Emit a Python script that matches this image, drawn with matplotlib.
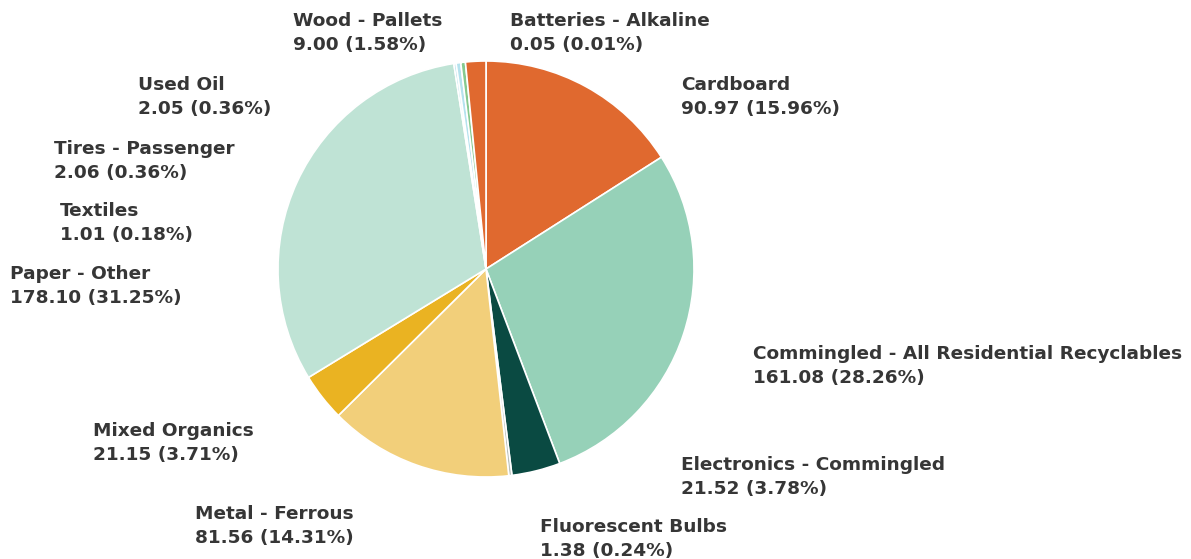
import matplotlib.pyplot as plt

# waste tonnage by material
materials = ["Batteries - Alkaline", "Cardboard", "Commingled - All Residential Recyclables",
             "Electronics - Commingled", "Fluorescent Bulbs", "Metal - Ferrous",
             "Mixed Organics", "Paper - Other", "Textiles", "Tires - Passenger",
             "Used Oil", "Wood - Pallets"]
tons = [0.05, 90.97, 161.08, 21.52, 1.38, 81.56, 21.15, 178.10, 1.01, 2.06, 2.05, 9.00]
percents = [0.01, 15.96, 28.26, 3.78, 0.24, 14.31, 3.71, 31.25, 0.18, 0.36, 0.36, 1.58]
colors = ["#f3c9b4", "#e0692f", "#96d1b8", "#0a4a42", "#b9c0bb", "#f2cf7a",
          "#eab322", "#bfe3d5", "#a9dbe6", "#b5e2ee", "#86c98f", "#e0692f"]

# label anchor (left x, top-line centre y) in pixels
label_pos = [(510, 22), (681, 86), (753, 355), (681, 466), (540, 528), (195, 515),
             (93, 432), (10, 275), (60, 212), (54, 150), (138, 86), (293, 22)]

W, H = 1191, 559
fig = plt.figure(figsize=(W / 100, H / 100), dpi=100)

cx, cy, r = 486, 269, 208
half = r * 1.25
ax = fig.add_axes([(cx - half) / W, (H - cy - half) / H, 2 * half / W, 2 * half / H])
ax.pie(tons, colors=colors, startangle=90, counterclock=False,
       wedgeprops=dict(edgecolor="white", linewidth=1.2))
ax.set_xlim(-1.25, 1.25)
ax.set_ylim(-1.25, 1.25)

for name, t, p, (x, y) in zip(materials, tons, percents, label_pos):
    fig.text(x / W, 1 - (y - 10) / H, f"{name}\n{t:.2f} ({p:.2f}%)",
             ha="left", va="top", fontsize=13.3, fontweight="bold",
             color="#363636", linespacing=1.45, family="DejaVu Sans")

fig.savefig("out.png", dpi=100)
